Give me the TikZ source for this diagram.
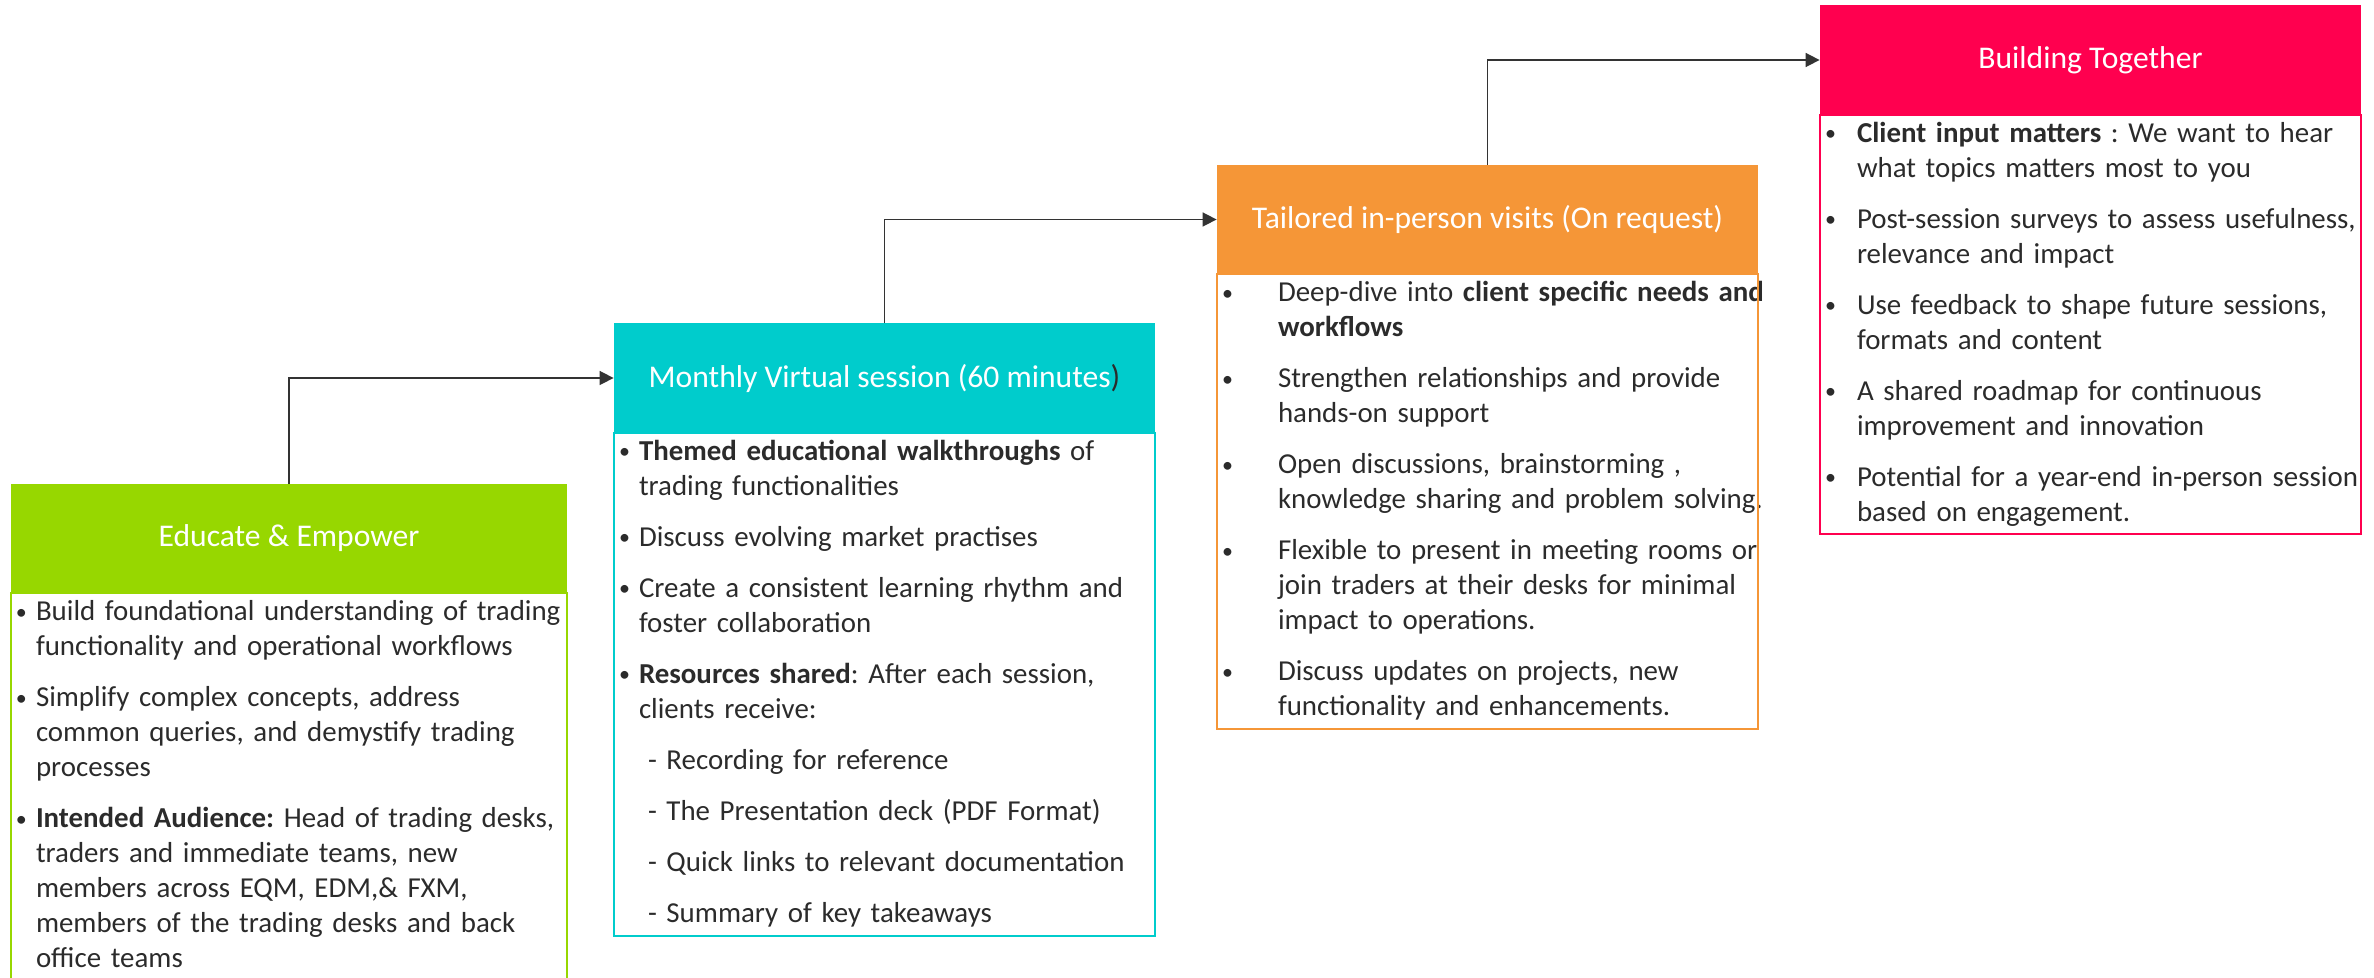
\documentclass[tikz,border=0pt]{standalone}
\usepackage{fontspec}
\setmainfont{Carlito}
\usetikzlibrary{positioning,arrows.meta}

\definecolor{eduGreen}{HTML}{97D700}
\definecolor{monTeal}{HTML}{00CCCC}
\definecolor{taiOrange}{HTML}{F59637}
\definecolor{bldRed}{HTML}{FF004F}
\definecolor{textDark}{HTML}{2B2B2B}
\definecolor{arrowGray}{HTML}{333333}

% line break inside a point
\newcommand{\nl}{\hfil\break}
% bullet point with hanging indent
\newcommand{\bpoint}[2][10pt]{\hangindent=#1\hangafter=1\noindent\strut\makebox[#1][l]{\raisebox{0.6pt}{\fontsize{11}{11}\selectfont\textbullet}}#2\strut\par}
% dash sub-point
\newcommand{\bsub}[1]{\noindent\strut\hspace*{14.5pt}- #1\strut\par}

\begin{document}
\begin{tikzpicture}[
    x=0.5pt, y=-0.5pt,
    header/.style={rectangle, inner sep=0pt, minimum width=270.5pt, minimum height=54.5pt, text=white, font=\fontsize{15.8}{19}\selectfont},
    bodytext/.style={rectangle, inner xsep=2.5pt, inner ysep=1.2pt, text width=300pt, text=textDark, font=\fontsize{14.45}{17.5}\selectfont\frenchspacing\setlength{\parskip}{8pt}},
    frame/.style={line width=1pt},
    arrow/.style={-{Triangle[length=7pt,width=7pt]}, line width=0.8pt, draw=arrowGray}
]
    \useasboundingbox (0,0) rectangle (2374,978);
    \clip (0,0) rectangle (2374,978);

    % Headers
    \node[header, fill=eduGreen, minimum width=278pt] (edu) at (289,538.5) {Educate \& Empower};
    \node[header, fill=monTeal] (mon) at (884.5,378) {Monthly Virtual session (60 minutes{\color{textDark})}};
    \node[header, fill=taiOrange] (tai) at (1487.5,219.5) {Tailored in-person visits (On request)};
    \node[header, fill=bldRed] (bld) at (2090.5,60) {Building Together};

    % Bodies
    \node[bodytext, below right=0pt and 0pt of edu.south west] (eduText) {%
        \bpoint{Build foundational understanding of trading\nl functionality and operational workflows}
        \bpoint{Simplify complex concepts, address\nl common queries, and demystify trading\nl processes}
        \bpoint{\textbf{Intended Audience:} Head of trading desks,\nl traders and immediate teams, new\nl members across EQM, EDM,\& FXM,\nl members of the trading desks and back\nl office teams}};
    \node[bodytext, below right=0pt and 0pt of mon.south west] (monText) {%
        \bpoint{\textbf{Themed educational walkthroughs} of\nl trading functionalities}
        \bpoint{Discuss evolving market practises}
        \bpoint{Create a consistent learning rhythm and\nl foster collaboration}
        \bpoint{\textbf{Resources shared}: After each session,\nl clients receive:}
        \bsub{Recording for reference}
        \bsub{The Presentation deck (PDF Format)}
        \bsub{Quick links to relevant documentation}
        \bsub{Summary of key takeaways}};
    \node[bodytext, below right=0pt and 0pt of tai.south west] (taiText) {%
        \bpoint[28pt]{Deep-dive into \textbf{client specific needs and}\nl \textbf{workflows}}
        \bpoint[28pt]{Strengthen relationships and provide\nl hands-on support}
        \bpoint[28pt]{Open discussions, brainstorming ,\nl knowledge sharing and problem solving.}
        \bpoint[28pt]{Flexible to present in meeting rooms or\nl join traders at their desks for minimal\nl impact to operations.}
        \bpoint[28pt]{Discuss updates on projects, new\nl functionality and enhancements.}};
    \node[bodytext, below right=0pt and 0pt of bld.south west] (bldText) {%
        \bpoint[16pt]{\textbf{Client input matters} : We want to hear\nl what topics matters most to you}
        \bpoint[16pt]{Post-session surveys to assess usefulness,\nl relevance and impact}
        \bpoint[16pt]{Use feedback to shape future sessions,\nl formats and content}
        \bpoint[16pt]{A shared roadmap for continuous\nl improvement and innovation}
        \bpoint[16pt]{Potential for a year-end in-person session\nl based on engagement.}};

    \draw[frame, eduGreen] (edu.south west) rectangle (eduText.south -| edu.east);
    \draw[frame, monTeal] (mon.south west) rectangle (monText.south -| mon.east);
    \draw[frame, taiOrange] (tai.south west) rectangle (taiText.south -| tai.east);
    \draw[frame, bldRed] (bld.south west) rectangle (bldText.south -| bld.east);

    % Steps
    \draw[arrow] (edu.north) |- (mon.west);
    \draw[arrow] (mon.north) |- (tai.west);
    \draw[arrow] (tai.north) |- (bld.west);
\end{tikzpicture}
\end{document}
